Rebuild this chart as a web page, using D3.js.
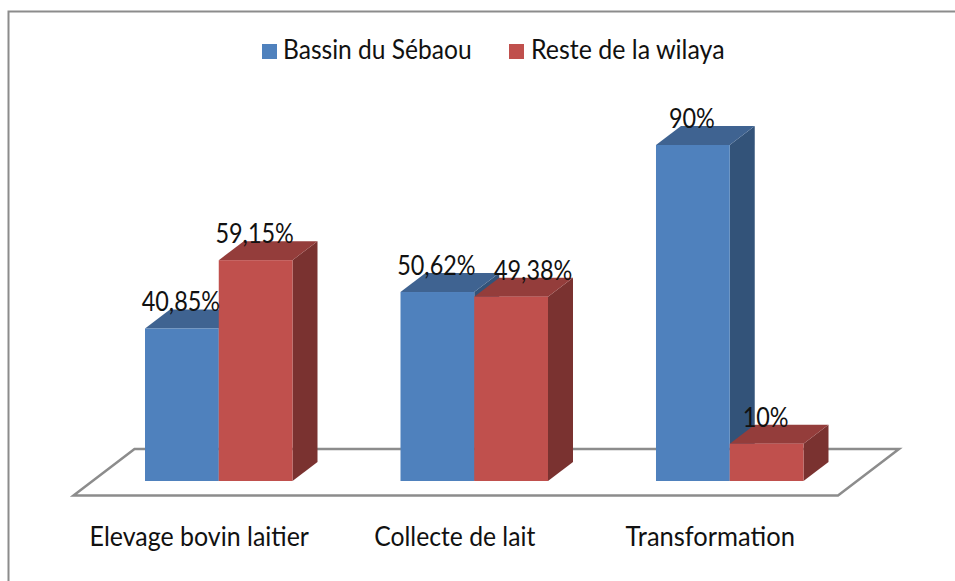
<!DOCTYPE html>
<html><head><meta charset="utf-8">
<script src="https://cdnjs.cloudflare.com/ajax/libs/d3/7.8.5/d3.min.js"></script>
<style>html,body{margin:0;padding:0;background:#fff}svg{display:block}text{font-family:Lato,"Open Sans",sans-serif;fill:#111}</style>
</head><body><svg id="c" width="955" height="581"></svg>
<script>
const categories=["Elevage bovin laitier","Collecte de lait","Transformation"];
const seriesNames=["Bassin du Sébaou","Reste de la wilaya"];
const bassin=[40.85,50.62,90];
const reste=[59.15,49.38,10];
const bassinLabels=["40,85%","50,62%","90%"];
const resteLabels=["59,15%","49,38%","10%"];
const palette=[{front:"#4f81bd",top:"#3f6391",side:"#335379"},{front:"#c0504d",top:"#943d3b",side:"#7a3230"}];

const svg=d3.select("#c");
const W=955,H=581;
const base=481,dx=25,dy=19;
const y=d3.scaleLinear().domain([0,90]).range([base,145]);
const x0=d3.scaleBand().domain(categories).range([91,857.5]).paddingInner(0.4227).paddingOuter(0.2114);
const x1=d3.scaleBand().domain([0,1]).range([0,x0.bandwidth()]);
const fit=(sel,f)=>sel.each(function(d,i){const k=typeof f==="function"?f(d,i):f;this.setAttribute("textLength",this.getComputedTextLength()*k);this.setAttribute("lengthAdjust","spacingAndGlyphs");});

svg.append("path").attr("d",`M${W},11.5H8.5V${H}`).attr("fill","none").attr("stroke","#8c8c8c").attr("stroke-width",2);
svg.append("path").attr("d","M73.5,495.5L134.5,449H899L838,495.5Z").attr("fill","#fff").attr("stroke","#8c8c8c").attr("stroke-width",2.5);

const rows=[];
categories.forEach((c,i)=>{rows.push({c,s:0,v:bassin[i],t:bassinLabels[i]});rows.push({c,s:1,v:reste[i],t:resteLabels[i]});});
const bars=svg.append("g").selectAll("g").data(rows).join("g");
function X(d){return x0(d.c)+x1(d.s);}
const w=x1.bandwidth();
bars.append("path").attr("fill",d=>palette[d.s].side)
 .attr("d",d=>{const a=X(d)+w,t=y(d.v);return `M${a},${t}l${dx},${-dy}V${base-dy}l${-dx},${dy}Z`;});
bars.append("path").attr("fill",d=>palette[d.s].top)
 .attr("d",d=>{const a=X(d),t=y(d.v);return `M${a},${t}l${dx},${-dy}h${w}l${-dx},${dy}Z`;});
bars.append("rect").attr("fill",d=>palette[d.s].front)
 .attr("x",X).attr("y",d=>y(d.v)).attr("width",w).attr("height",d=>base-y(d.v));

svg.append("g").selectAll("text").data(rows).join("text")
 .attr("x",d=>X(d)+w/2-1+(d.s===1&&d.c===categories[1]?23:0))
 .attr("y",d=>y(d.v)-17).attr("text-anchor","middle").attr("font-size",26).text(d=>d.t).call(fit,0.9);

svg.append("g").selectAll("text").data(categories).join("text")
 .attr("x",c=>x0(c)+x0.bandwidth()/2-19.5).attr("y",546).attr("text-anchor","middle").attr("font-size",26).text(c=>c)
 .call(fit,(c,i)=>[0.96,0.95,0.98][i]);

const lg=svg.append("g");
[[262,283],[509,531]].forEach((p,i)=>{
 lg.append("rect").attr("x",p[0]).attr("y",44).attr("width",15).attr("height",15).attr("fill",palette[i].front);
 lg.append("text").attr("x",p[1]).attr("y",59).attr("font-size",26).text(seriesNames[i]).call(fit,i?0.96:0.945);
});
</script></body></html>
